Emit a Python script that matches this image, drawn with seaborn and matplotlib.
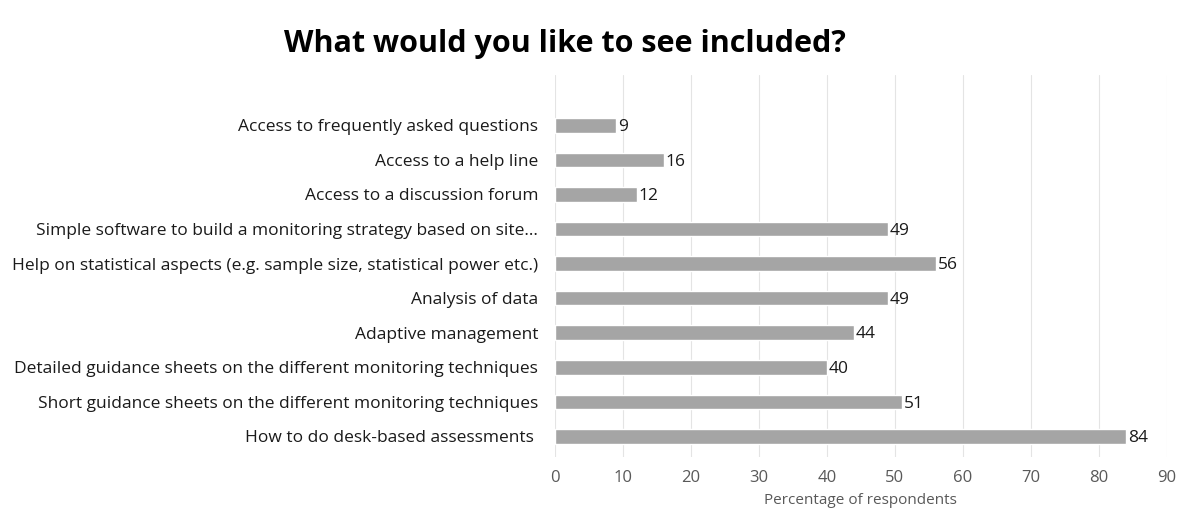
import matplotlib
matplotlib.use('Agg')
import matplotlib.pyplot as plt
import seaborn as sns
import pandas as pd

# data, top to bottom
options = ['Access to frequently asked questions',
           'Access to a help line',
           'Access to a discussion forum',
           'Simple software to build a monitoring strategy based on site...',
           'Help on statistical aspects (e.g. sample size, statistical power etc.)',
           'Analysis of data',
           'Adaptive management',
           'Detailed guidance sheets on the different monitoring techniques',
           'Short guidance sheets on the different monitoring techniques',
           'How to do desk-based assessments ']
percent = [9, 16, 12, 49, 56, 49, 44, 40, 51, 84]
xticks = [0, 10, 20, 30, 40, 50, 60, 70, 80, 90]

df = pd.DataFrame({'option': options, 'pct': percent})

sns.set_style('white')
plt.rcParams['font.family'] = ['Open Sans', 'DejaVu Sans']

fig = plt.figure(figsize=(11.82, 5.08), dpi=100)
ax = fig.add_axes([0.4695, 0.1, 0.5175, 0.752])

sns.barplot(data=df, x='pct', y='option', color='#A5A5A5', saturation=1,
            width=0.42, ax=ax)

for i, v in enumerate(percent):
    ax.text(v + 0.3, i + 0.05, str(v), va='center', ha='left', fontsize=12.5, color='#1a1a1a')

ax.set_xlim(0, 90)
ax.set_ylim(9.6, -1.45)
ax.set_xticks(xticks)
ax.xaxis.grid(True, color='#E4E4E4', linewidth=0.8)
ax.set_axisbelow(True)
for s in ax.spines.values():
    s.set_visible(False)
ax.tick_params(axis='x', labelsize=12, length=0, pad=9)
ax.tick_params(axis='y', labelsize=12.5, length=0, pad=12)
for lab in ax.get_xticklabels():
    lab.set_color('#595959')
for lab in ax.get_yticklabels():
    lab.set_color('#1a1a1a')
ax.set_ylabel('')
ax.set_xlabel('Percentage of respondents', fontsize=11, color='#595959', labelpad=5)

fig.text(0.478, 0.913, 'What would you like to see included?', ha='center', va='center',
         fontsize=22, fontweight='bold', color='black')

plt.savefig('out.png', dpi=100)
